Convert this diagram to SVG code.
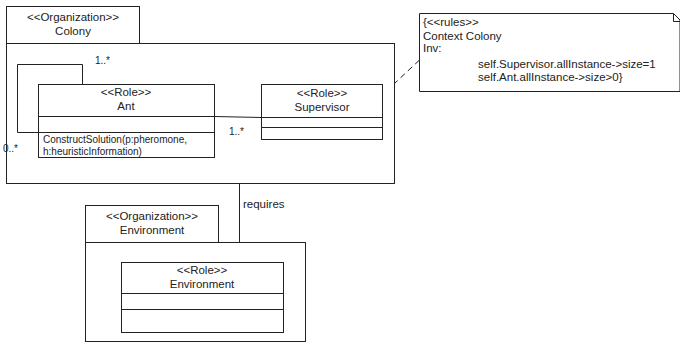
<svg xmlns="http://www.w3.org/2000/svg" width="680" height="343" viewBox="0 0 680 343">
<style>
.b{fill:#fff;stroke:#222;stroke-width:1}
.l{fill:none;stroke:#222;stroke-width:1}
.d{fill:none;stroke:#222;stroke-width:1;stroke-dasharray:6,4}
text{font-family:"Liberation Sans",Arial,sans-serif;font-size:11.5px;fill:#222}
.c{text-anchor:middle}
.s{font-size:10px}
</style>
<rect width="680" height="343" fill="#fff"/>
<g id="colony">
<rect class="b" x="6.5" y="6.5" width="133" height="37"/>
<rect class="b" x="6.5" y="43.5" width="388" height="140"/>
<text class="c" x="73" y="21">&lt;&lt;Organization&gt;&gt;</text>
<text class="c" x="73" y="35">Colony</text>
</g>
<g id="ant">
<rect class="b" x="38.5" y="84.5" width="176" height="73"/>
<line class="l" x1="38.5" y1="116.5" x2="214.5" y2="116.5"/>
<line class="l" x1="38.5" y1="132.5" x2="214.5" y2="132.5"/>
<text class="c" x="126" y="96">&lt;&lt;Role&gt;&gt;</text>
<text class="c" x="126" y="110">Ant</text>
<text class="s" x="43" y="143">ConstructSolution(p:pheromone,</text>
<text class="s" x="43" y="154.5">h:heuristicInformation)</text>
</g>
<g id="supervisor">
<rect class="b" x="261.5" y="84.5" width="121" height="55"/>
<line class="l" x1="261.5" y1="117.5" x2="382.5" y2="117.5"/>
<line class="l" x1="261.5" y1="127.5" x2="382.5" y2="127.5"/>
<text class="c" x="322" y="97">&lt;&lt;Role&gt;&gt;</text>
<text class="c" x="322" y="111">Supervisor</text>
</g>
<g id="note">
<path class="b" d="M419.5,13.5 H673.5 L680,20 V91.5 H419.5 Z"/>
<path class="l" d="M673.5,13.5 V21.5 H680"/>
<text x="423" y="26">{&lt;&lt;rules&gt;&gt;</text>
<text x="423" y="39.5">Context Colony</text>
<text x="423" y="52">Inv:</text>
<text x="478" y="68">self.Supervisor.allInstance-&gt;size=1</text>
<text x="478" y="81">self.Ant.allInstance-&gt;size&gt;0}</text>
</g>
<g id="environment-org">
<rect class="b" x="85.5" y="205.5" width="133" height="37"/>
<rect class="b" x="85.5" y="242.5" width="220" height="99"/>
<text class="c" x="152" y="220">&lt;&lt;Organization&gt;&gt;</text>
<text class="c" x="152" y="234">Environment</text>
</g>
<g id="environment-role">
<rect class="b" x="121.5" y="262.5" width="162" height="70"/>
<line class="l" x1="121.5" y1="293.5" x2="283.5" y2="293.5"/>
<line class="l" x1="121.5" y1="309.5" x2="283.5" y2="309.5"/>
<text class="c" x="202" y="274">&lt;&lt;Role&gt;&gt;</text>
<text class="c" x="202" y="288">Environment</text>
</g>
<g id="connectors">
<path class="l" d="M82.5,84.5 V64.5 H17.5 V132.5 H38.5"/>
<line class="l" x1="214.5" y1="116.5" x2="261.5" y2="117.5"/>
<line class="d" x1="419.5" y1="60" x2="395" y2="83"/>
<line class="l" x1="239.5" y1="183.5" x2="239.5" y2="242.5"/>
<text class="s" x="95" y="64">1..*</text>
<text class="s" x="3" y="152">0..*</text>
<text class="s" x="229" y="135">1..*</text>
<text x="243" y="208">requires</text>
</g>
</svg>
